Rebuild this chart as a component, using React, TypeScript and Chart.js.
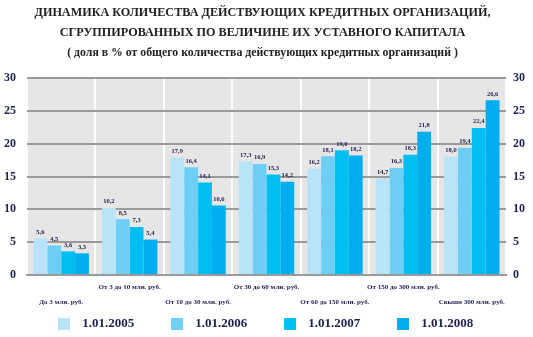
import React, { useEffect, useRef } from "react";
import { Chart, registerables } from "chart.js";

Chart.register(...registerables);

const categories = [
  "До 3 млн. руб.",
  "От 3 до 10 млн. руб.",
  "От 10 до 30 млн. руб.",
  "От 30 до 60 млн. руб.",
  "От 60 до 150 млн. руб.",
  "От 150 до 300 млн. руб.",
  "Свыше 300 млн. руб.",
];
const seriesNames = ["1.01.2005", "1.01.2006", "1.01.2007", "1.01.2008"];
const s2005 = [5.6, 10.2, 17.9, 17.3, 16.2, 14.7, 18.0];
const s2006 = [4.5, 8.5, 16.4, 16.9, 18.1, 16.3, 19.4];
const s2007 = [3.6, 7.3, 14.1, 15.3, 19.0, 18.3, 22.4];
const s2008 = [3.3, 5.4, 10.6, 14.2, 18.2, 21.8, 26.6];
const colors = ["#b9e4f8", "#6dcff6", "#00bdf2", "#00aeef"];
const titleLines = [
  "ДИНАМИКА КОЛИЧЕСТВА ДЕЙСТВУЮЩИХ КРЕДИТНЫХ ОРГАНИЗАЦИЙ,",
  "СГРУППИРОВАННЫХ ПО ВЕЛИЧИНЕ ИХ УСТАВНОГО КАПИТАЛА",
];
const subtitleText = "( доля в % от общего количества действующих кредитных организаций )";

const FONT = "'Liberation Serif', serif";
const INK = "#1e2050";

const bgPlugin = {
  id: "plotBg",
  beforeDraw(chart: any) {
    const { ctx, chartArea } = chart;
    ctx.save();
    ctx.fillStyle = "#e6e6e6";
    ctx.fillRect(chartArea.left, chartArea.top, chartArea.right - chartArea.left, chartArea.bottom - chartArea.top);
    ctx.restore();
  },
};

// let the x tick labels extend below the (deliberately short) axis box
const unclipX = {
  id: "unclipX",
  afterLayout(chart: any) {
    const s = chart.scales.x;
    if (s) s.bottom = chart.height;
  },
};

const valueLabels = {
  id: "valueLabels",
  afterDatasetsDraw(chart: any) {
    const { ctx } = chart;
    ctx.save();
    ctx.font = `bold 6.5px ${FONT}`;
    ctx.fillStyle = INK;
    ctx.textAlign = "center";
    ctx.textBaseline = "bottom";
    chart.data.datasets.forEach((ds: any, di: number) => {
      const meta = chart.getDatasetMeta(di);
      meta.data.forEach((bar: any, i: number) => {
        const v = ds.data[i];
        ctx.fillText(v.toFixed(1).replace(".", ","), bar.x, bar.y - 3);
      });
    });
    ctx.restore();
  },
};

function swatch(color: string) {
  const c = document.createElement("canvas");
  c.width = 12;
  c.height = 12;
  const g = c.getContext("2d")!;
  g.fillStyle = color;
  g.fillRect(0, 0, 12, 12);
  return c;
}

export default function App() {
  const ref = useRef<HTMLCanvasElement>(null);
  useEffect(() => {
    document.body.style.margin = "0";
    const series = [s2005, s2006, s2007, s2008];
    const swatches = colors.map(swatch);
    const yTickBase = {
      stepSize: 5,
      autoSkip: false,
      color: INK,
      font: { family: FONT, size: 12, weight: "bold" },
    };
    const chart = new Chart(ref.current!, {
      type: "bar",
      data: {
        labels: categories,
        datasets: series.map((d, i) => ({
          label: seriesNames[i],
          data: d,
          backgroundColor: colors[i],
          borderWidth: 0,
          categoryPercentage: 0.81,
          barPercentage: 1.0,
        })),
      },
      options: {
        animation: false,
        responsive: false,
        layout: { padding: { left: -7, right: 1, top: 0, bottom: -3.5 } },
        plugins: {
          title: {
            display: true,
            text: titleLines,
            color: "#222",
            font: { family: FONT, size: 12.2, weight: "bold", lineHeight: 1.64 },
            padding: { top: 3, bottom: 0 },
          },
          subtitle: {
            display: true,
            text: subtitleText,
            color: "#222",
            font: { family: FONT, size: 11.8, weight: "bold", lineHeight: 1.4 },
            padding: { top: 2, bottom: 16.5 },
          },
          legend: {
            position: "bottom",
            labels: {
              usePointStyle: true,
              pointStyleWidth: 24,
              boxWidth: 12,
              boxHeight: 12,
              padding: 30.5,
              color: INK,
              font: { family: FONT, size: 13, weight: "bold" },
              generateLabels: (ch: any) => {
                const items = (Chart as any).defaults.plugins.legend.labels.generateLabels(ch);
                return items.map((it: any, i: number) => ({ ...it, pointStyle: swatches[i % swatches.length] }));
              },
            },
          },
          tooltip: { enabled: false },
        },
        scales: {
          x: {
            grid: { color: "#ffffff", lineWidth: 2, drawTicks: false, offset: true },
            border: { display: true, color: "#9a9a9a", width: 2 },
            afterFit: (scale: any) => {
              scale.height = 12;
            },
            ticks: {
              autoSkip: false,
              maxRotation: 0,
              padding: 5,
              color: INK,
              font: { family: FONT, size: 7, weight: "bold", lineHeight: 2.14 },
              callback: (_v: any, i: number) => (i % 2 === 0 ? ["", categories[i]] : [categories[i], ""]),
            },
          },
          y: {
            min: 0,
            max: 30,
            position: "left",
            grid: { color: "#9a9a9a", lineWidth: 2, drawTicks: false },
            border: { display: false },
            ticks: { ...yTickBase, padding: 11 },
          },
          y2: {
            min: 0,
            max: 30,
            position: "right",
            grid: { display: false, drawTicks: false },
            border: { display: false },
            ticks: { ...yTickBase, padding: 7 },
          },
        },
      },
      plugins: [bgPlugin, unclipX, valueLabels],
    } as any);
    return () => chart.destroy();
  }, []);
  return <canvas ref={ref} width={533} height={337} style={{ display: "block" }} />;
}
